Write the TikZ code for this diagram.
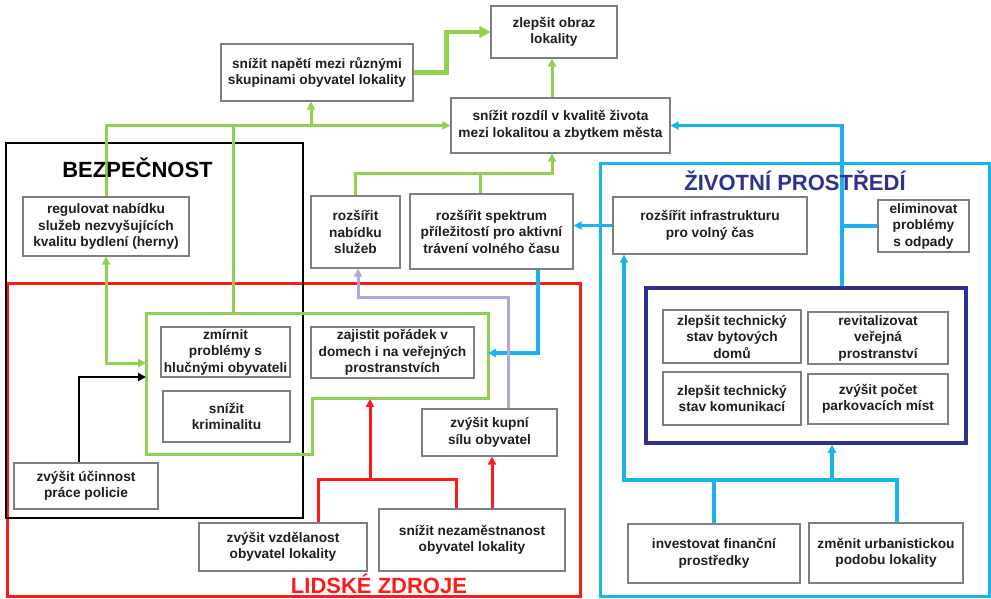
\documentclass[tikz,border=0pt]{standalone}
\usepackage{fontspec}
\setmainfont{Liberation Sans}
\usetikzlibrary{arrows.meta}
\definecolor{gr}{HTML}{92D050}
\definecolor{cy}{HTML}{17B4EE}
\definecolor{rd}{HTML}{FF1A1A}
\definecolor{db}{HTML}{2E3192}
\definecolor{lav}{HTML}{B4A6D9}
\definecolor{boxgray}{HTML}{7F7F7F}
\definecolor{txt}{HTML}{1E1E1E}
\begin{document}
\begin{tikzpicture}[x=1pt,y=-1pt,
  box/.style={draw=boxgray, line width=1.2pt, fill=white, align=center,
    inner xsep=2pt, inner ysep=1pt, text=txt,
    font=\bfseries\fontsize{13.7}{16.5}\selectfont},
  title/.style={anchor=base, font=\bfseries\fontsize{22}{26}\selectfont},
  tip/.style={-{Triangle[length=8pt,width=8pt]}},
  gline/.style={draw=gr, line width=3pt},
  cline/.style={draw=cy, line width=3.2pt},
  rline/.style={draw=rd, line width=3pt},
  lline/.style={draw=lav, line width=3pt},
  bline/.style={draw=black, line width=2.6pt},
  frame/.style={line width=3pt}
]
\useasboundingbox (0,0) rectangle (991,598);

% ---- group frames ----
\draw[frame, draw=rd] (7,283) rectangle (580,596.5);
\draw[frame, draw=black, line width=2.6pt] (6,143) rectangle (303,518);
\draw[frame, draw=cy] (600,163) rectangle (989,596.5);
\node[draw=db, line width=3.5pt, minimum width=320pt, minimum height=155pt, inner sep=0pt] (dbox) at (806,365.5) {};
\draw[frame, draw=gr] (146,313) -- (488,313) -- (488,398) -- (312,398) -- (312,454) -- (146,454) -- cycle;

% ---- coordinates on the green frame ----
\coordinate (gtop) at (233,313);
\coordinate (gleftA) at (146,363);
\coordinate (gleftB) at (146,377);
\coordinate (gright) at (488,353);
\coordinate (gbot) at (370,399);

% ---- boxes ----
\node[box, minimum width=126pt, minimum height=52pt] (obraz) at (554,32) {zlepšit obraz\\lokality};
\node[box, minimum width=192pt, minimum height=57pt] (napeti) at (317,72.5) {snížit napětí mezi různými\\skupinami obyvatel lokality};
\node[box, minimum width=219pt, minimum height=55pt] (rozdil) at (560.5,125.5) {snížit rozdíl v kvalitě života\\mezi lokalitou a zbytkem města};
\node[box, minimum width=166pt, minimum height=59pt] (regul) at (106,226.5) {regulovat nabídku\\služeb nezvyšujících\\kvalitu bydlení (herny)};
\node[box, minimum width=89pt, minimum height=72pt] (nabidku) at (355.5,232) {rozšířit\\nabídku\\služeb};
\node[box, minimum width=163pt, minimum height=75pt] (spektrum) at (491.5,231.5) {rozšířit spektrum\\příležitostí pro aktivní\\trávení volného času};
\node[box, minimum width=194pt, minimum height=57pt] (infra) at (710,225.5) {rozšířit infrastrukturu\\pro volný čas};
\node[box, minimum width=91pt, minimum height=52pt] (elim) at (923.5,226) {eliminovat\\problémy\\s odpady};
\node[box, minimum width=129pt, minimum height=50pt] (zmirnit) at (225.5,352) {zmírnit\\problémy s\\hlučnými obyvateli};
\node[box, minimum width=127pt, minimum height=51pt] (krim) at (226.5,416.5) {snížit\\kriminalitu};
\node[box, minimum width=163pt, minimum height=51pt] (poradek) at (392.5,352.5) {zajistit pořádek v\\domech i na veřejných\\prostranstvích};
\node[box, minimum width=135pt, minimum height=47pt] (kupni) at (489.5,432.5) {zvýšit kupní\\sílu obyvatel};
\node[box, minimum width=144pt, minimum height=46pt] (policie) at (86,486) {zvýšit účinnost\\práce policie};
\node[box, minimum width=168pt, minimum height=48pt] (vzdel) at (283,547) {zvýšit vzdělanost\\obyvatel lokality};
\node[box, minimum width=186pt, minimum height=62pt] (nezam) at (472,540) {snížit nezaměstnanost\\obyvatel lokality};
\node[box, minimum width=138pt, minimum height=53pt] (bytov) at (732,336.5) {zlepšit technický\\stav bytových\\domů};
\node[box, minimum width=140pt, minimum height=52pt] (revit) at (878,338) {revitalizovat\\veřejná\\prostranství};
\node[box, minimum width=138pt, minimum height=53pt] (komun) at (732,398.5) {zlepšit technický\\stav komunikací};
\node[box, minimum width=140pt, minimum height=50pt] (parkov) at (878,399) {zvýšit počet\\parkovacích míst};
\node[box, minimum width=172pt, minimum height=59pt] (invest) at (714,553.5) {investovat finanční\\prostředky};
\node[box, minimum width=154pt, minimum height=60pt] (zmenit) at (886,553) {změnit urbanistickou\\podobu lokality};

% ---- green connectors ----
\draw[gline, line width=4.5pt, -{Triangle[length=11pt,width=12pt]}] (napeti.east) -- ++(33,0) |- (obraz.west);
\draw[gline, tip] (rozdil.north -| 552,0) -- (552,0 |- obraz.south);
\draw[gline, tip] (regul.north) |- (rozdil.west);
\draw[gline, tip] (311,125.5) -- (311,0 |- napeti.south);
\draw[gline] (gtop) -- (233,125.5);
\draw[gline, tip] (nabidku.north) -- ++(0,-22) -| (552,0 |- rozdil.south);
\draw[gline] (480,0 |- spektrum.north) -- (480,174);
\draw[gline, {Triangle[length=8pt,width=8pt]}-{Triangle[length=8pt,width=8pt]}] (regul.south) |- (gleftA);

% ---- black connector ----
\draw[bline, tip] (79,0 |- policie.north) |- (gleftB);

% ---- cyan connectors ----
\draw[cline, tip] (538,0 |- spektrum.south) |- (gright);
\draw[cline, tip] (infra.west) -- (infra.west -| spektrum.east);
\draw[cline, tip] (842,0 |- dbox.north) |- (rozdil.east);
\draw[cline] (elim.west) -- (842,0 |- elim.west);
\draw[cline] (invest.north) -- (invest.north |- 0,480);
\draw[cline, tip] (897,0 |- zmenit.north) |- (624,480) -- (624,0 |- infra.south);
\draw[cline, tip] (832,480) -- (832,0 |- dbox.south);

% ---- red connectors ----
\draw[rline] (318,0 |- vzdel.north) |- (456,479) -- (456,0 |- nezam.north);
\draw[rline, tip] (370,479) -- (gbot);
\draw[rline, tip] (492,0 |- nezam.north) -- (492,0 |- kupni.south);

% ---- lavender connector ----
\draw[lline, tip] (508,0 |- kupni.north) |- (358,297) -- (358,0 |- nabidku.south);

% ---- titles (on top of the lines) ----
\node[title, text=black] (tbez) at (137.5,177) {BEZPEČNOST};
\node[title, text=db] (tziv) at (795,190) {ŽIVOTNÍ PROSTŘEDÍ};
\node[title, text=rd] (tlid) at (379,593.5) {LIDSKÉ ZDROJE};
\end{tikzpicture}
\end{document}
